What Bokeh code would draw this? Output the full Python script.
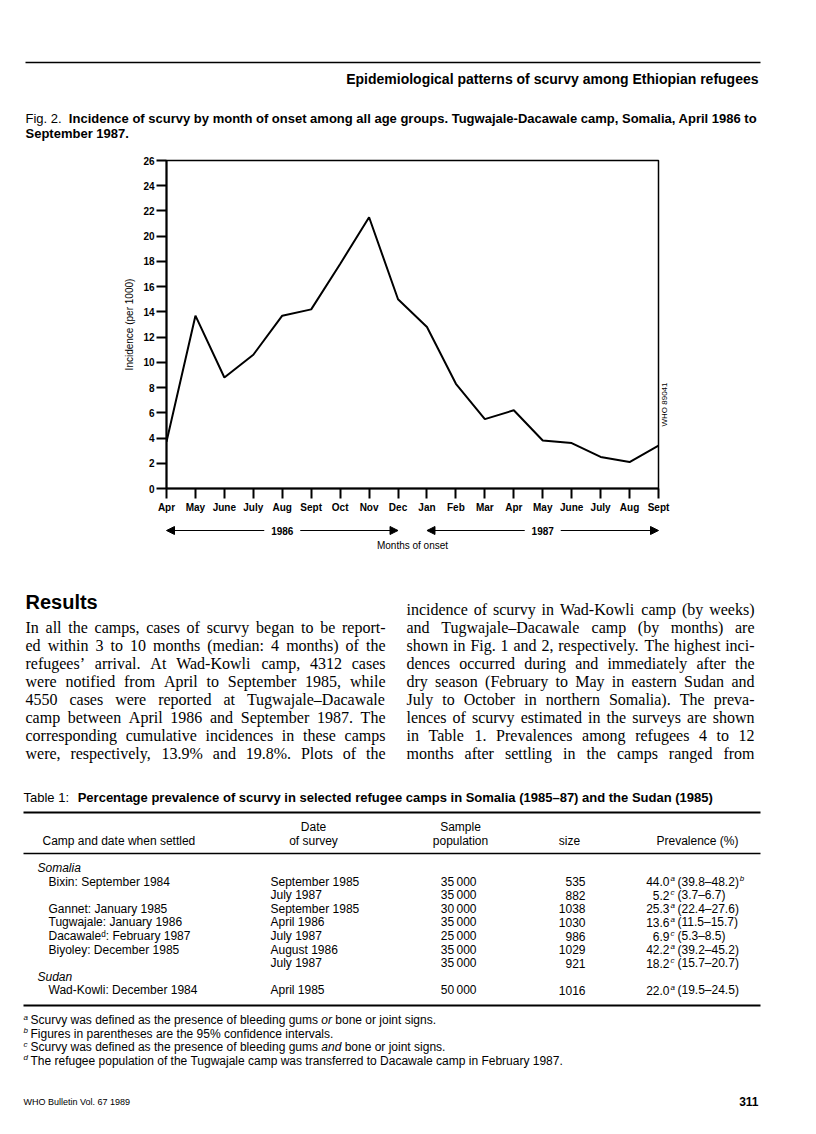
import math
from bokeh.plotting import figure
from bokeh.layouts import column
from bokeh.models import Range1d, FixedTicker, LinearAxis, Arrow, NormalHead
from bokeh.core.properties import value
from bokeh.embed import file_html
from bokeh.resources import INLINE

# ---------------- chart data ----------------
months = ["Apr", "May", "June", "July", "Aug", "Sept", "Oct", "Nov", "Dec",
          "Jan", "Feb", "Mar", "Apr", "May", "June", "July", "Aug", "Sept"]
incidence = [3.7, 13.7, 8.8, 10.6, 13.7, 14.2, 17.8, 21.5, 15.0,
             12.8, 8.3, 5.5, 6.2, 3.8, 3.6, 2.5, 2.1, 3.4]
y_ticks = list(range(0, 27, 2))
years = ["1986", "1987"]
year_first = [0, 9]
year_last = [8, 17]

# ---------------- page texts ----------------
header = "Epidemiological patterns of scurvy among Ethiopian refugees"
caption_lead = "Fig. 2."
caption_lines = ["Incidence of scurvy by month of onset among all age groups. Tugwajale-Dacawale camp, Somalia, April 1986 to",
                 "September 1987."]
left_col = ["In all the camps, cases of scurvy began to be report-",
            "ed within 3 to 10 months (median: 4 months) of the",
            "refugees\u2019 arrival. At Wad-Kowli camp, 4312 cases",
            "were notified from April to September 1985, while",
            "4550 cases were reported at Tugwajale\u2013Dacawale",
            "camp between April 1986 and September 1987. The",
            "corresponding cumulative incidences in these camps",
            "were, respectively, 13.9% and 19.8%. Plots of the"]
right_col = ["incidence of scurvy in Wad-Kowli camp (by weeks)",
             "and Tugwajale\u2013Dacawale camp (by months) are",
             "shown in Fig. 1 and 2, respectively. The highest inci-",
             "dences occurred during and immediately after the",
             "dry season (February to May in eastern Sudan and",
             "July to October in northern Somalia). The preva-",
             "lences of scurvy estimated in the surveys are shown",
             "in Table 1. Prevalences among refugees 4 to 12",
             "months after settling in the camps ranged from"]
table_lead = "Table 1:"
table_title = "Percentage prevalence of scurvy in selected refugee camps in Somalia (1985\u201387) and the Sudan (1985)"
groups = ["Somalia", "Sudan"]
group_rows = [0, 7]
camps = ["Bixin: September 1984", "", "Gannet: January 1985", "Tugwajale: January 1986",
         "Dacawale\u1d48: February 1987", "Biyoley: December 1985", "", "Wad-Kowli: December 1984"]
survey_dates = ["September 1985", "July 1987", "September 1985", "April 1986",
                "July 1987", "August 1986", "July 1987", "April 1985"]
populations = ["35\u2009000", "35\u2009000", "30\u2009000", "35\u2009000",
               "25\u2009000", "35\u2009000", "35\u2009000", "50\u2009000"]
sizes = ["535", "882", "1038", "1030", "986", "1029", "921", "1016"]
prevalence = ["44.0", "5.2", "25.3", "13.6", "6.9", "42.2", "18.2", "22.0"]
definition = ["a", "c", "a", "a", "c", "a", "c", "a"]
conf_int = ["(39.8\u201348.2)", "(3.7\u20136.7)", "(22.4\u201327.6)", "(11.5\u201315.7)",
            "(5.3\u20138.5)", "(39.2\u201345.2)", "(15.7\u201320.7)", "(19.5\u201324.5)"]
footnote_marks = ["a", "b", "c", "d"]
footnotes = [[("Scurvy was defined as the presence of bleeding gums ", "normal"), ("or", "italic"),
              (" bone or joint signs.", "normal")],
             [("Figures in parentheses are the 95% confidence intervals.", "normal")],
             [("Scurvy was defined as the presence of bleeding gums ", "normal"), ("and", "italic"),
              (" bone or joint signs.", "normal")],
             [("The refugee population of the Tugwajale camp was transferred to Dacawale camp in February 1987.", "normal")]]

# ---------------- font metrics (advance widths per 1000 em) ----------------
SERIF_W = dict(zip("abcdefghijklmnopqrstuvwxyz",
                   [444, 500, 444, 500, 444, 333, 500, 500, 278, 278, 500, 278, 778,
                    500, 500, 500, 500, 333, 389, 278, 500, 500, 722, 500, 500, 444]))
SERIF_W.update(zip("ABCDEFGHIJKLMNOPQRSTUVWXYZ",
                   [722, 667, 667, 722, 611, 556, 722, 722, 333, 389, 722, 611, 889,
                    722, 722, 556, 722, 667, 556, 611, 722, 722, 944, 722, 722, 611]))
SERIF_W.update({c: 500 for c in "0123456789"})
SERIF_W.update({" ": 250, ",": 250, ".": 250, ":": 278, ";": 278, "(": 333, ")": 333,
                "-": 333, "\u2013": 500, "\u2019": 333, "%": 833})
SANS_W = dict(zip("abcdefghijklmnopqrstuvwxyz",
                  [556, 556, 500, 556, 556, 278, 556, 556, 222, 222, 500, 222, 833,
                   556, 556, 556, 556, 333, 500, 278, 556, 500, 722, 500, 500, 500]))
SANS_W.update(zip("ABCDEFGHIJKLMNOPQRSTUVWXYZ",
                  [667, 667, 722, 722, 667, 611, 778, 722, 278, 500, 667, 556, 833,
                   722, 778, 667, 778, 722, 667, 611, 722, 667, 944, 667, 667, 611]))
SANS_W.update({c: 556 for c in "0123456789"})
SANS_W.update({" ": 278, ",": 278, ".": 278, ":": 278, "(": 333, ")": 333, "-": 333,
               "\u2013": 556, "%": 889})


def text_w(s, size, table):
    return sum(table.get(ch, 500) for ch in s) * size / 1000.0


# ---------------- layout (page pixel coordinates) ----------------
PW, PH = 816, 1134
TOP_END, CHART_END = 142, 518          # page bands: text | chart | text
FL, FT, FR, FB = 166, 160, 658, 488    # chart frame
SANS = "Liberation Sans"
SERIF = "Liberation Serif"


def page_fig(y0, y1):
    f = figure(width=PW, height=y1 - y0, x_range=Range1d(0, PW), y_range=Range1d(y1, y0),
               x_axis_location=None, y_axis_location=None,
               min_border_left=0, min_border_right=0, min_border_top=0, min_border_bottom=0,
               frame_align=False, output_backend="svg", toolbar_location=None)
    f.outline_line_color = None
    f.grid.visible = False
    f.background_fill_color = "white"
    f.border_fill_color = "white"
    return f


def T(f, x, y, text, size=11, style="normal", align="left", font=SANS):
    xs = x if isinstance(x, list) else [x]
    ts = text if isinstance(text, list) else [text]
    f.text(x=xs, y=[y] * len(xs), text=ts, text_font=value(font), text_font_size=value(f"{size}px"),
           text_font_style=value(style), text_align=value(align), text_baseline=value("middle"),
           text_color="black")


def justified(f, x0, x1, y, line, size, font, table):
    words = line.split(" ")
    total = sum(text_w(w, size, table) for w in words)
    gap = (x1 - x0 - total) / (len(words) - 1)
    xs, x = [], x0
    for w in words:
        xs.append(x)
        x += text_w(w, size, table) + gap
    T(f, xs, y, words, size=size, font=font)


def rule(f, x0, x1, y, w=1.5):
    f.segment(x0=[x0], y0=[y], x1=[x1], y1=[y], line_color="black", line_width=w)


# ---------------- top band: running head and caption ----------------
top = page_fig(0, TOP_END)
rule(top, 25, 760, 62, 1.5)
T(top, 758, 78, header, size=14, style="bold", align="right")
T(top, 25, 118, caption_lead, size=13)
T(top, 25 + text_w(caption_lead + "  ", 13, SANS_W), 118, caption_lines[0], size=13, style="bold")
T(top, 25, 133, caption_lines[1], size=13, style="bold")

# ---------------- chart ----------------
p = figure(width=PW, height=CHART_END - TOP_END,
           x_range=Range1d(0, len(months) - 1), y_range=Range1d(0, 26),
           min_border_left=FL, min_border_right=PW - FR,
           min_border_top=FT - TOP_END, min_border_bottom=CHART_END - FB,
           frame_align=False, output_backend="svg", toolbar_location=None)
p.background_fill_color = "white"
p.border_fill_color = "white"
p.outline_line_color = "black"
p.outline_line_width = 1.5
p.grid.visible = False

p.line(x=list(range(len(months))), y=incidence, line_color="black", line_width=2)

for ax in (p.xaxis[0], p.yaxis[0]):
    ax.axis_line_width = 2
    ax.axis_line_color = "black"
    ax.major_tick_line_width = 2
    ax.major_tick_line_color = "black"
    ax.major_tick_out = 10
    ax.major_tick_in = 0
    ax.minor_tick_out = 0
    ax.minor_tick_in = 0
    ax.major_label_text_color = "black"
    ax.major_label_text_font = SANS
    ax.axis_label_text_font = SANS
    ax.axis_label_text_font_style = "normal"
    ax.axis_label_text_color = "black"

p.xaxis.ticker = FixedTicker(ticks=list(range(len(months))))
p.xaxis.major_label_overrides = {i: m for i, m in enumerate(months)}
p.xaxis.major_label_text_font_size = "10px"
p.xaxis.major_label_text_font_style = "bold"
p.xaxis.major_label_standoff = 3

p.yaxis.ticker = FixedTicker(ticks=y_ticks)
p.yaxis.major_label_text_font_size = "10px"
p.yaxis.major_label_text_font_style = "bold"
p.yaxis.major_label_standoff = 2
p.yaxis.axis_label = "Incidence (per 1000)"
p.yaxis.axis_label_text_font_size = "10px"
p.yaxis.axis_label_standoff = 5

px_per_unit = (FB - FT) / 26.0
who_y = (FB - 426) / px_per_unit
rax = LinearAxis(ticker=FixedTicker(ticks=[who_y]), major_label_overrides={who_y: "WHO 89041"},
                 axis_line_color=None, major_tick_line_color=None, minor_tick_line_color=None,
                 major_tick_out=0, major_tick_in=0,
                 major_label_orientation=math.pi / 2, major_label_standoff=6,
                 major_label_text_font_size="8px", major_label_text_font=SANS,
                 major_label_text_color="black")
p.add_layout(rax, "right")

# ---------------- bottom band ----------------
bot = page_fig(CHART_END, PH)

px_per_month = (FR - FL) / (len(months) - 1)
arrow_y = 530
for yr, s, e in zip(years, year_first, year_last):
    xs, xe = FL + s * px_per_month, FL + e * px_per_month
    c = (xs + xe) / 2
    for a, b in ((c - 18, xs), (c + 18, xe)):
        bot.add_layout(Arrow(x_start=a, y_start=arrow_y, x_end=b, y_end=arrow_y,
                             line_width=1, line_color="black",
                             end=NormalHead(size=8, fill_color="black", line_color="black")))
    T(bot, c, arrow_y, yr, size=10, style="bold", align="center")
T(bot, (FL + FR) / 2, 545, "Months of onset", size=10, align="center")

T(bot, 25, 601, "Results", size=20, style="bold")
for i, line in enumerate(left_col):
    justified(bot, 25, 385, 627 + i * 18, line, 16, SERIF, SERIF_W)
for i, line in enumerate(right_col):
    justified(bot, 406, 754, 609 + i * 18, line, 16, SERIF, SERIF_W)

T(bot, 23, 797, table_lead, size=13)
T(bot, 23 + text_w(table_lead + "  ", 13, SANS_W), 797, table_title, size=13, style="bold")
rule(bot, 23, 760, 812, 2)
T(bot, 313, 826, "Date", size=12, align="center")
T(bot, 460, 826, "Sample", size=12, align="center")
T(bot, 42, 840, "Camp and date when settled", size=12)
T(bot, 313, 840, "of survey", size=12, align="center")
T(bot, 460, 840, "population", size=12, align="center")
T(bot, 569, 840, "size", size=12, align="center")
T(bot, 697, 840, "Prevalence (%)", size=12, align="center")
rule(bot, 23, 760, 853, 1.5)

row0, dy = 867.5, 13.6
line_idx = 0
for i in range(len(camps)):
    if i in group_rows:
        T(bot, 37, row0 + line_idx * dy, groups[group_rows.index(i)], size=12, style="italic")
        line_idx += 1
    y = row0 + line_idx * dy
    if camps[i]:
        T(bot, 48, y, camps[i], size=12)
    T(bot, 270, y, survey_dates[i], size=12)
    T(bot, 476, y, populations[i], size=12, align="right")
    T(bot, 585, y, sizes[i], size=12, align="right")
    T(bot, 669, y, prevalence[i], size=12, align="right")
    T(bot, 670, y - 3, definition[i], size=8, style="italic")
    T(bot, 677, y, conf_int[i], size=12)
    if i == 0:
        T(bot, 677 + text_w(conf_int[i], 12, SANS_W) + 1, y - 3, "b", size=8, style="italic")
    line_idx += 1
rule(bot, 23, 760, 1005, 2)

for i, (m, segs) in enumerate(zip(footnote_marks, footnotes)):
    y = 1019.5 + i * 13.5
    T(bot, 23, y - 3, m, size=8, style="italic")
    x = 30
    for txt, st in segs:
        lead = len(txt) - len(txt.lstrip(" "))
        x += text_w(" " * lead, 12, SANS_W)
        T(bot, x, y, txt.strip(" "), size=12, style=st)
        x += text_w(txt.lstrip(" "), 12, SANS_W)

T(bot, 23, 1101, "WHO Bulletin Vol. 67 1989", size=9)
T(bot, 758, 1101, "311", size=12, style="bold", align="right")

layout = column(top, p, bot, spacing=0)
open("out.html", "w").write(file_html(layout, INLINE))
